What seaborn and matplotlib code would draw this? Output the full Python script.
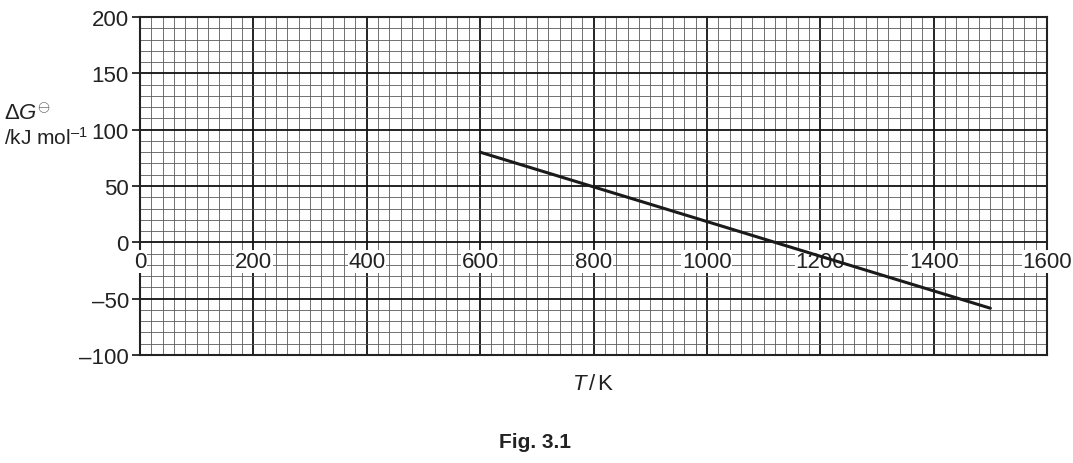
import numpy as np
import pandas as pd
import matplotlib
matplotlib.use("Agg")
import matplotlib.pyplot as plt
import seaborn as sns
from matplotlib.ticker import MultipleLocator

# data
temperature_K = [600, 1500]
delta_G = [80, -58.5]

x_ticks = [0, 200, 400, 600, 800, 1000, 1200, 1400, 1600]
x_tick_labels = ["0", "200", "400", "600", "800", "1000", "1200", "1400", "1600"]
y_ticks = [-100, -50, 0, 50, 100, 150, 200]
y_tick_labels = ["\u2013100", "\u201350", "0", "50", "100", "150", "200"]

sns.set_theme(style="white")
plt.rcParams["font.family"] = ["Liberation Sans", "DejaVu Sans"]
plt.rcParams["mathtext.fontset"] = "custom"
plt.rcParams["mathtext.rm"] = "Liberation Sans"
plt.rcParams["mathtext.it"] = "Liberation Sans:italic"

fig = plt.figure(figsize=(10.73, 4.64), dpi=100)
ax = fig.add_axes([0.1305, 0.2328, 0.8453, 0.7284])

ax.set_xlim(0, 1600)
ax.set_ylim(-100, 200)

# graph paper grid
ax.xaxis.set_minor_locator(MultipleLocator(20))
ax.yaxis.set_minor_locator(MultipleLocator(10))
ax.set_xticks(x_ticks)
ax.set_yticks(y_ticks)
ax.grid(which="minor", color="#5a5a5a", linewidth=0.6)
ax.grid(which="major", color="#111111", linewidth=1.3)
ax.set_axisbelow(True)

df = pd.DataFrame({"T": temperature_K, "dG": delta_G})
sns.lineplot(data=df, x="T", y="dG", color="#1a1a1a", linewidth=2.2, ax=ax, zorder=6)

# y ticks outside on left
ax.set_yticklabels(y_tick_labels, fontsize=16, color="#222222")
ax.tick_params(axis="y", which="major", left=True, length=6, width=1.3,
               color="#222222", pad=2)
ax.tick_params(axis="y", which="minor", left=False)
ax.tick_params(axis="x", which="both", bottom=False, labelbottom=False)

# x tick labels sit inside the plot, under the zero line
for xv, lab in zip(x_ticks, x_tick_labels):
    ax.text(xv, -17, lab, ha="center", va="center", fontsize=16, color="#222222",
            bbox=dict(facecolor="white", edgecolor="none", pad=0.5), zorder=5)

for s in ax.spines.values():
    s.set_color("#222222")
    s.set_linewidth(1.5)

ax.set_xlabel(r"$\mathit{T}\,$/$\,$K", fontsize=16, color="#222222", labelpad=13)
ax.set_ylabel("")

fig.text(4 / 1073, 1 - 120 / 464, r"$\Delta\mathit{G}^{\ominus}$", fontsize=16,
         color="#222222", ha="left", va="baseline")
fig.text(4 / 1073, 1 - 145 / 464, "/kJ mol$^{\u20131}$", fontsize=15,
         color="#222222", ha="left", va="baseline")

fig.text(535 / 1073, 1 - 443 / 464, "Fig. 3.1", fontsize=15, fontweight="bold",
         color="#222222", ha="center", va="center")

fig.savefig("out.png", dpi=100)
